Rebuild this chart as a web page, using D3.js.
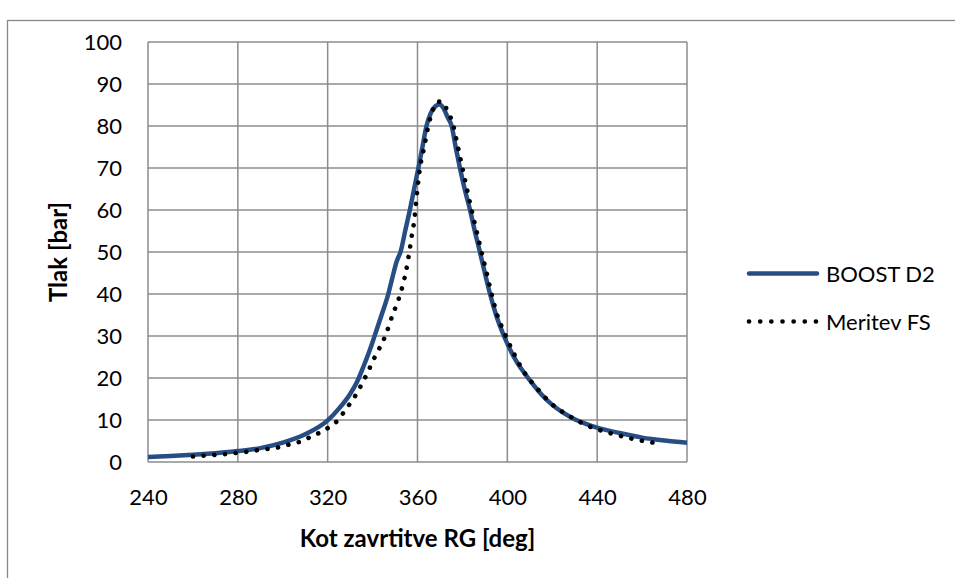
<!DOCTYPE html>
<html><head><meta charset="utf-8">
<script src="https://cdn.jsdelivr.net/npm/d3@7"></script>
<style>body{margin:0;background:#fff;} svg{display:block;} text{font-family:Lato,"Open Sans",sans-serif;fill:#000;}</style>
</head><body><svg id="c" width="955" height="578"></svg>
<script>
const boostX = [240,250,260,270,280,290,300,310,320,325,330,333,336,339,341,344,347,349,350.7,352.6,354.5,356.6,358.5,360.4,362.2,364,366,368,369.7,371.5,373.5,375.2,377,378.9,381,383.4,385.5,387.8,390,392.3,395,398.5,404,410,415,420,425,430,435,440,450,460,470,480];
const boostY = [1.2,1.4,1.7,2.1,2.6,3.3,4.6,6.6,9.9,12.7,16.2,19,22.8,27,30.2,35,40,44.3,47.7,50.3,55,60,65,70,75,80,83.2,84.7,85.1,84.3,82,80,75,70,65,60,55,50,45,40,35,30,24,19.5,16.2,13.6,11.7,10.2,9.1,8.2,6.9,5.8,5.1,4.6];
const measX = [260,265,270,275,280,285,290,295,299.2,303.7,308.1,312.5,316.9,321,324.7,328,332,336.6,341,345.8,348.9,350.7,352.3,353.6,354.7,355.6,356.3,357.1,357.8,358.6,359.1,361.1,363,364.8,367,369,371,373,376,378,380,382,384.1,386.3,388.5,390.8,393,395.5,398.5,402.4,407.1,412.8,419.4,427.4,436,444.9,454.3,463.8,465];
const measY = [1.3,1.5,1.7,1.9,2.2,2.5,2.9,3.2,3.6,4.3,4.9,6.0,7.1,8.4,10,12.5,15.5,20,25,30.2,35,37.5,39.9,42.5,44.9,47.5,49.8,52.5,55.1,57.6,60.4,70,75,80,84,85.8,85.8,84,80,75,70,65,60,55,50,45,40,35,31,26.4,21.7,17.8,14,11,8.6,7,5.7,4.7,4.6];
const xTicks = [240,280,320,360,400,440,480];
const yTicks = [0,10,20,30,40,50,60,70,80,90,100];
const seriesNames = ["BOOST D2","Meritev FS"];
const xTitle = "Kot zavrtitve RG [deg]";
const yTitle = "Tlak [bar]";

const svg = d3.select("#c");
// outer chart frame
svg.append("rect").attr("x",7.5).attr("y",20.5).attr("width",1000).attr("height",700)
  .attr("fill","none").attr("stroke","#888").attr("stroke-width",1.3);

const L=148,R=687,T=42,B=462;
const x = d3.scaleLinear().domain([240,480]).range([L,R]);
const y = d3.scaleLinear().domain([0,100]).range([B,T]);
const grid = svg.append("g");
xTicks.forEach(t=>grid.append("line").attr("x1",x(t)).attr("x2",x(t)).attr("y1",T).attr("y2",B)
  .attr("stroke","#8c8c8c").attr("stroke-width",1.5));
yTicks.forEach(t=>grid.append("line").attr("x1",L).attr("x2",R).attr("y1",y(t)).attr("y2",y(t))
  .attr("stroke","#8c8c8c").attr("stroke-width",1.5));

const xa = svg.append("g").attr("transform",`translate(0,${B})`)
  .call(d3.axisBottom(x).tickValues(xTicks).tickSize(0).tickPadding(0).tickFormat(d3.format("d")));
xa.selectAll("text").attr("dy",null).attr("y",43);
const ya = svg.append("g").attr("transform",`translate(${L},0)`)
  .call(d3.axisLeft(y).tickValues(yTicks).tickSize(0).tickPadding(26).tickFormat(d3.format("d")));
ya.selectAll("text").attr("dy","0.36em");
[xa,ya].forEach(a=>{a.select(".domain").remove();a.selectAll("text").style("font-size","22px").style("font-family","Lato").attr("fill","#000");});

const line = d3.line().x(d=>x(d[0])).y(d=>y(d[1])).curve(d3.curveMonotoneX);
const boost = boostX.map((v,i)=>[v,boostY[i]]);
const meas = measX.map((v,i)=>[v,measY[i]]);
svg.append("path").datum(boost).attr("d",line).attr("fill","none").attr("stroke","#264e84").attr("stroke-width",4.5).attr("stroke-linejoin","round");
svg.append("path").datum(meas).attr("d",line).attr("fill","none").attr("stroke","#000").attr("stroke-width",4.6)
  .attr("stroke-linecap","round").attr("stroke-dasharray","0.1,10.6");

svg.append("text").attr("x",(L+R)/2).attr("y",547).attr("text-anchor","middle")
  .style("font-size","24px").style("font-weight","bold").text(xTitle);
svg.append("text").attr("transform","translate(67,252) rotate(-90)").attr("text-anchor","middle")
  .style("font-size","24px").style("font-weight","bold").text(yTitle);

// legend
const lg = svg.append("g");
lg.append("line").attr("x1",749).attr("x2",817).attr("y1",273.5).attr("y2",273.5).attr("stroke","#264e84").attr("stroke-width",4.5).attr("stroke-linecap","round");
lg.append("text").attr("x",826).attr("y",282).style("font-size","22px").text(seriesNames[0]);
lg.append("line").attr("x1",749).attr("x2",816).attr("y1",321.5).attr("y2",321.5).attr("stroke","#000").attr("stroke-width",4.6)
  .attr("stroke-linecap","round").attr("stroke-dasharray","0.1,11.05");
lg.append("text").attr("x",826).attr("y",330).style("font-size","22px").text(seriesNames[1]);
</script></body></html>
